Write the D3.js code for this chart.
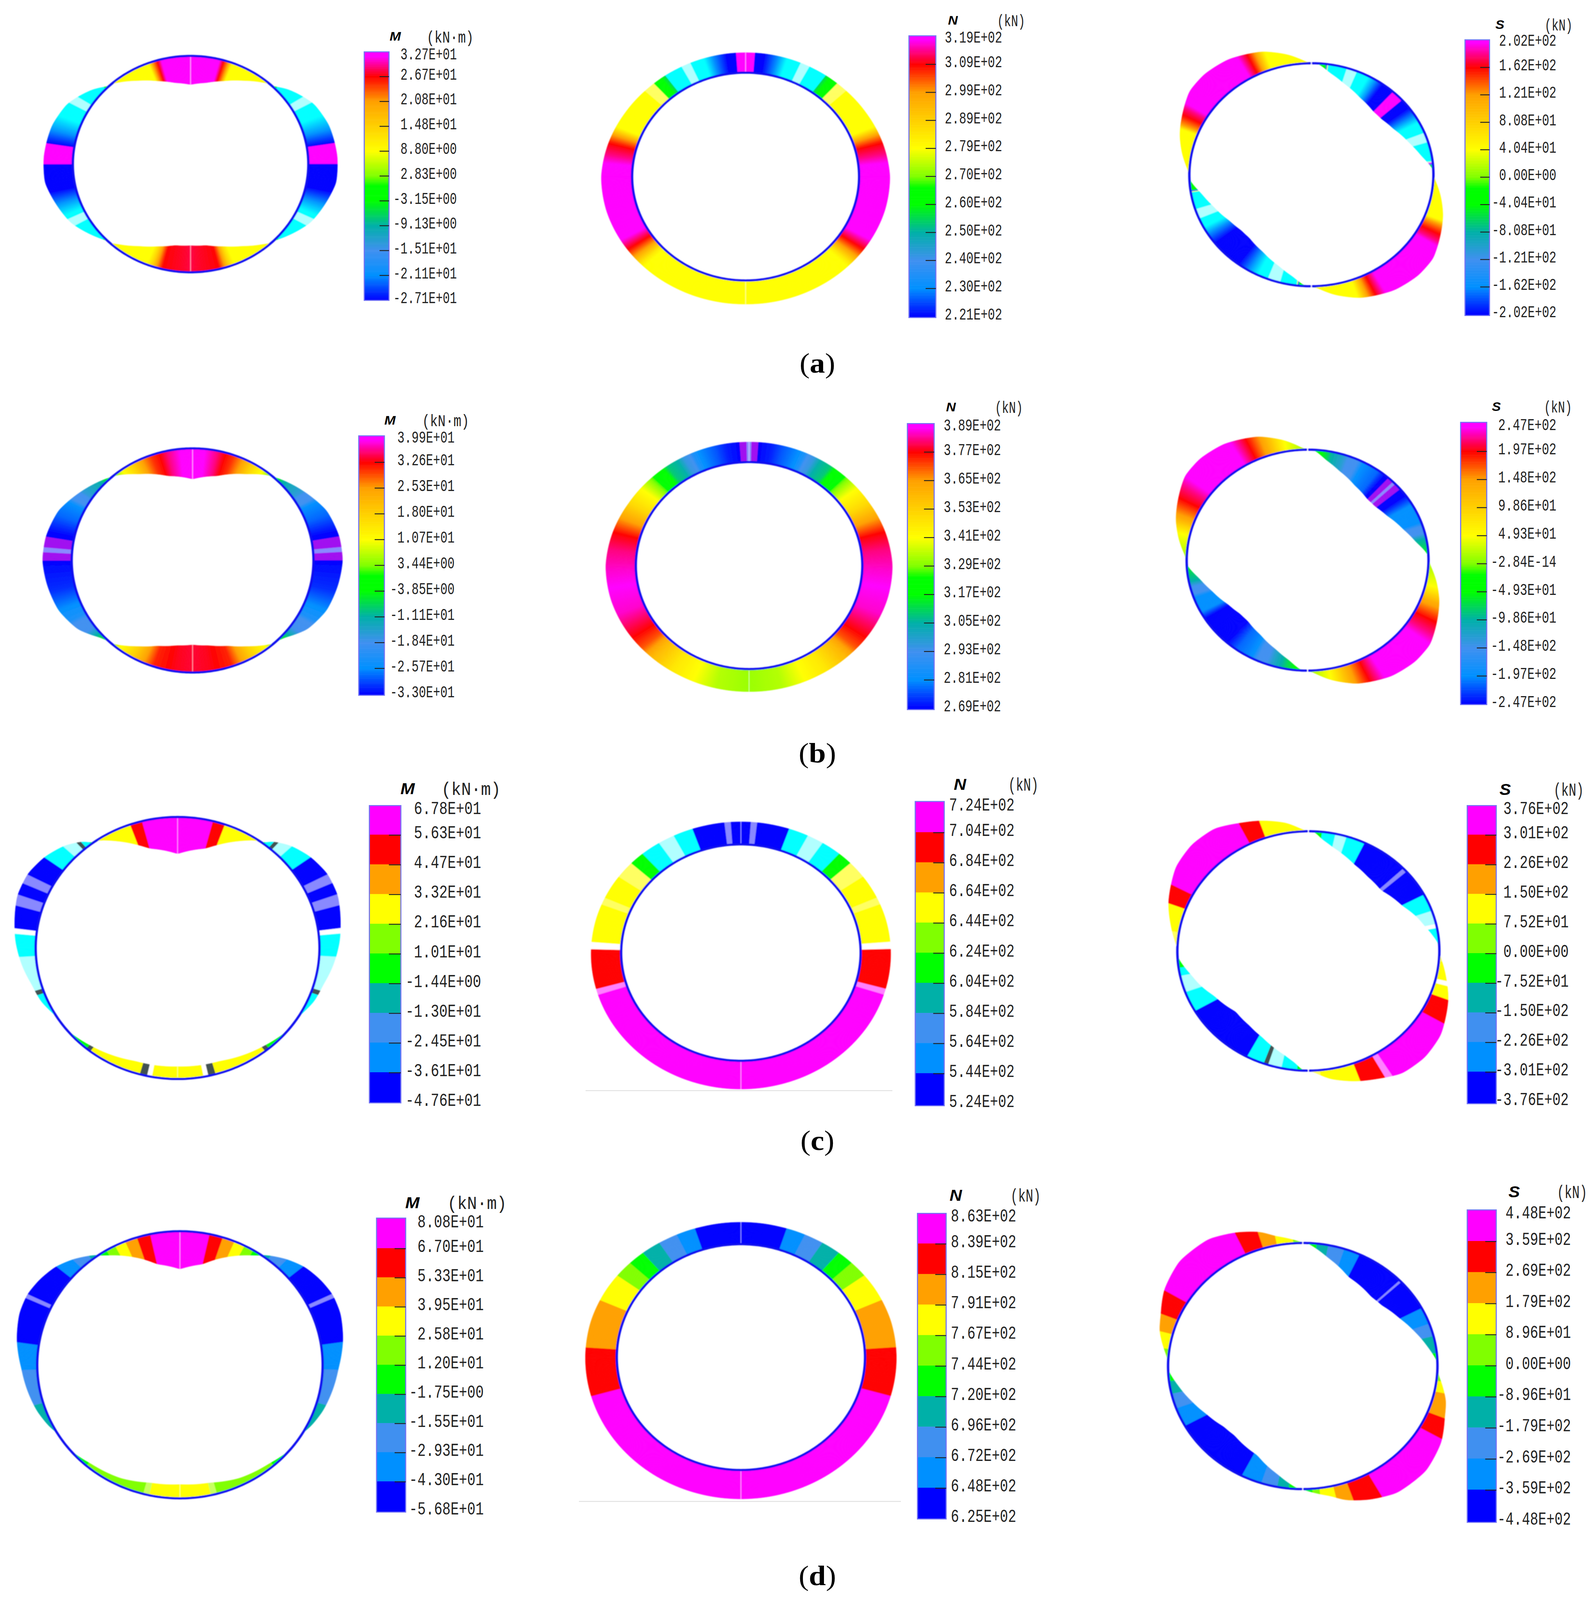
<!DOCTYPE html>
<html>
<head>
<meta charset="utf-8">
<script src="https://cdn.jsdelivr.net/npm/d3@7"></script>
<style>
html, body { margin: 0; height: 100%; background: #fff; overflow: hidden; }
svg { display: block; width: 100vw; height: 100vh; }
</style>
</head>
<body>
<svg viewBox="0 0 1423.6 1563.9" preserveAspectRatio="none"></svg>
<script>
// legend tick labels, top to bottom
var maTicks = ["3.27E+01","2.67E+01","2.08E+01","1.48E+01","8.80E+00","2.83E+00","-3.15E+00","-9.13E+00","-1.51E+01","-2.11E+01","-2.71E+01"];
var naTicks = ["3.19E+02","3.09E+02","2.99E+02","2.89E+02","2.79E+02","2.70E+02","2.60E+02","2.50E+02","2.40E+02","2.30E+02","2.21E+02"];
var saTicks = ["2.02E+02","1.62E+02","1.21E+02","8.08E+01","4.04E+01","0.00E+00","-4.04E+01","-8.08E+01","-1.21E+02","-1.62E+02","-2.02E+02"];
var mbTicks = ["3.99E+01","3.26E+01","2.53E+01","1.80E+01","1.07E+01","3.44E+00","-3.85E+00","-1.11E+01","-1.84E+01","-2.57E+01","-3.30E+01"];
var nbTicks = ["3.89E+02","3.77E+02","3.65E+02","3.53E+02","3.41E+02","3.29E+02","3.17E+02","3.05E+02","2.93E+02","2.81E+02","2.69E+02"];
var sbTicks = ["2.47E+02","1.97E+02","1.48E+02","9.86E+01","4.93E+01","-2.84E-14","-4.93E+01","-9.86E+01","-1.48E+02","-1.97E+02","-2.47E+02"];
var mcTicks = ["6.78E+01","5.63E+01","4.47E+01","3.32E+01","2.16E+01","1.01E+01","-1.44E+00","-1.30E+01","-2.45E+01","-3.61E+01","-4.76E+01"];
var ncTicks = ["7.24E+02","7.04E+02","6.84E+02","6.64E+02","6.44E+02","6.24E+02","6.04E+02","5.84E+02","5.64E+02","5.44E+02","5.24E+02"];
var scTicks = ["3.76E+02","3.01E+02","2.26E+02","1.50E+02","7.52E+01","0.00E+00","-7.52E+01","-1.50E+02","-2.26E+02","-3.01E+02","-3.76E+02"];
var mdTicks = ["8.08E+01","6.70E+01","5.33E+01","3.95E+01","2.58E+01","1.20E+01","-1.75E+00","-1.55E+01","-2.93E+01","-4.30E+01","-5.68E+01"];
var ndTicks = ["8.63E+02","8.39E+02","8.15E+02","7.91E+02","7.67E+02","7.44E+02","7.20E+02","6.96E+02","6.72E+02","6.48E+02","6.25E+02"];
var sdTicks = ["4.48E+02","3.59E+02","2.69E+02","1.79E+02","8.96E+01","0.00E+00","-8.96E+01","-1.79E+02","-2.69E+02","-3.59E+02","-4.48E+02"];

// diagram values read at stations, degrees clockwise from the crown
var maDeg = [0,10,20,30,40,42,44,50,55,62,73,87,98,106,118,132,135,137,140,150,160,170,180];
var maVal = [32.7,29.2,22.5,13.4,2.3,0,0,-8.3,-13.5,-20.3,-25,-27.1,-27.1,-22.9,-16.7,-3.1,0,0,4.1,15.2,23.4,29.2,30.4];
var naDeg = [0,15,30,45,60,75,90,105,120,135,150,165,180];
var naVal = [221,223,228,240,262,292,319,316,303,288,276,268,264];
var saDeg = [0,3,9.5,18,30,42,49,58.5,70.7,79.4,86.4,88,92,100,108.6,118,127,135.8,146.6,160,170,178,180];
var saVal = [0,0,-62,-117,-171,-202,-202,-179,-124,-70,-8,0,7,58,108,151,195,202,187,137,72,7,0];
var mbDeg = [0,15,30,40,42,44,58,68,80,90,100,112,123,132,136,138,150,159,170,180];
var mbVal = [39.9,31.9,16,1.3,0,-2.5,-16.5,-26.6,-31.7,-33,-30.5,-26.6,-17.8,-3.8,0,0,16.6,26.6,33.3,35.9];
var nbDeg = [0,15,30,45,60,75,90,105,120,135,150,165,180];
var nbVal = [269,272,278,292,315,355,389,385,365,340,322,314,310];
var sbDeg = [0,3,9.5,18,30,42,49,58.5,70.7,79.4,86.4,88,92,100,108.6,118,127,135.8,146.6,160,170,178,180];
var sbVal = [0,0,-76,-143,-209,-247,-247,-219,-152,-86,-10,0,9,71,132,185,238,247,229,168,88,9,0];
var mcDeg = [0,14.6,20.4,28,34,36,37,39,45.4,53.3,61.6,70.4,81,87.4,97,105.4,113,120,122,129,141,161,180];
var mcVal = [67.8,51.8,37.7,17.9,1.9,0,0,-11.4,-27.6,-40,-47.6,-47.6,-39,-34.3,-24.8,-15.2,-10.5,-1.9,0,0,8.5,20.7,22.6];
var ncDeg = [0,15,30,45,60,75,90,105,120,150,180];
var ncVal = [524,530,560,610,650,680,695,705,715,722,724];
var scDeg = [0,2.5,6.3,12,18.7,26,36,47.5,62.4,70.4,77,86,88,91,94,102.4,110.5,118.4,124.9,135,145,154,161.7,171,178,180];
var scVal = [0,0,-91,-169,-233,-298,-350,-376,-285,-195,-130,-13,0,0,25,113,205,276,338,376,363,276,213,120,13,0];
var mdDeg = [0,12,18,26.6,33,35,36,43.6,50,57,63.7,71,80.7,91.5,99.8,109,117,120.6,130,139.8,154,166.8,180];
var mdVal = [80.8,65.5,48,24,6.6,0,-4.6,-26.7,-41.7,-51,-56.8,-55.6,-46.4,-32.5,-25.5,-17.4,-7,0,0,8.7,15.3,26.2,29.5];
var ndDeg = [0,15,30,45,60,75,90,105,120,150,180];
var ndVal = [625,630,660,720,790,840,855,860,862,863,863];
var sdDeg = [0,2,12,25,42,50,61.6,70.5,80,88,91,94,105,111.7,121,133,145.9,155.6,163.8,169,179,180];
var sdVal = [0,0,-185,-371,-448,-433,-340,-239,-116,0,0,15,179,239,358,448,440,343,239,134,15,0];

// contour levels (see levelColor below)
var maToneDeg = [0,14.5,16.5,19,21,43,43.01,46,46.01,57,57.01,61,61.01,68,75,81,81.01,90,90.01,102,108,114,116,116.01,120,120.01,133,133.01,137,137.01,158,161,163,166,178,180];
var maTone = [0,0,1,2,4,4,6,6,20,20,19,19,20,20,21,22,0,0,22,22,21,20,20,19,19,20,20,6,6,4,4,3,2,1,0.8,0.7];
var naToneDeg = [0,4,4.01,8,14,18,24,24.01,28,28.01,36,36.01,38,42,42.01,47,47.01,67,71,75,80,84,119,124,128,132,134,180];
var naTone = [0,0,22,22,21,20,20,19,19,20,20,6.5,6,6,16,16,4,4,2,1,0.5,0,0,1,2,3.5,4,4];
var saToneDeg = [0,3,7,8,17,17.01,22,22.01,28,32,36,42,42.01,48,48.01,53,58,62,68,68.01,73,73.01,83,85,86,88,88.01,111,113,117,120,122,150,152,154,157,159,161,178,178.01,186,187,195,195.01,201,201.01,206,211,217,232,238,242,247,247.01,252,252.01,261,262,267,267.01,291,293,297,300,302,330,332,334,337,339,341,360];
var saTone = [6,6,6,20,20,19,19,20,20,21,22,22,0,0,22,22,21,20,20,19,19,20,20,6.5,6,6,4,4,2,1,0.5,0,0,0.5,1,2,3,4,4,6,6,20,20,19,19,20,20,21,22,22,21,20,20,19,19,20,20,6,6,4,4,2,1,0.5,0,0,0.5,1,2,3,4,4];
var mbToneDeg = [0,6,12,16,20,25,30,36,40,41,44,47,56,57,61,63,70,78,80,80.01,84.5,84.51,86.5,86.51,90,90.01,103,112,118,120,126,128,132,135,137,142,150,156,161,172,180];
var mbTone = [0,0,0.5,1,1.3,2,3,4,5,5.5,6,7,7.7,8,8,9,9.3,10,10,11,11,12,12,11,11,10,9.7,9,8.6,8,8,7.5,6.5,6,5,4,3,2,1.2,0.9,0.8];
var nbToneDeg = [0,0.8,0.81,4,4.01,10,15,22,25,26,29,32,37,39,44,45,49,52,60,68,75,83,92,100,112,118,124,130,136,146,156,166,180];
var nbTone = [12,12,11,11,10,9.8,9.4,9,8.5,8,7.8,7,6.7,6,6,5.2,4.5,4,3.2,2,1,0.5,0.2,0,0.2,0.6,1,1.5,2.5,3.5,4,4.6,4.8];
var sbToneDeg = [0,4,7,10,12,18,20,25,28,36,40,42,42.01,45,45.01,46.5,46.51,50,50.01,54,60,70,72,76,79,84,86,88,88.01,92,103,110,118,123,127,149,155,162,170,178,178.01,182,186,190,193,198,200,205,208,216,222,238,242,250,252,256,259,264,266,268,268.01,272,283,290,298,303,307,329,335,342,350,358,360];
var sbTone = [5.5,5.5,6,6.5,7,7.6,8,8,9,9.3,10,10,11,11,12,12,11,11,10,10,9,9,8,8,7,6.5,6,5.5,5,4.7,4,2.3,1,0.5,0,0,1,2.3,4,4.7,5.5,5.5,6,6.5,7,7.6,8,8,9,9.3,10,10,9,9,8,8,7,6.5,6,5.5,5,4.7,4,2.2,1,0.5,0,0,1,2.3,4,4.7,4.7];
var mcToneDeg = [0,14.4,19.5,35,37.5,40,41.5,46,53.5,62,65.5,70,74,82.5,84.5,93.5,108,110,122,129,140,142,164.5,167.5,169.5];
var mcTone = [0,1,4,6,20,13,19,20,22,12,22,12,22,14,20,19,13,20,20,6,13,4,13,14,4];
var ncToneDeg = [0,4,6.5,19.7,27.6,34,42,48,55.7,66.2,69,85.5,88.5,105.7,108];
var ncTone = [22,12,22,20,19,20,6,16,4,16,4,14,1,15,0];
var scToneDeg = [0,6,12,17,25.5,46.5,48.5,62.2,70.3,76.8,79,86,88,95,103.5,105.5,111,120.5,148.5,151,160,175,182,185,192,198,200,208,240,250,258,262,268,272,279,290.5,298,333.5,341];
var scTone = [6,20,19,20,22,12,22,20,19,14,20,6,16,4,14,4,1,0,15,1,4,16,6,20,19,13,20,22,20,19,20,6,16,16,4,1,0,1,4];
var mdToneDeg = [0,11.8,17.4,22.6,27,31,34,38,43.5,49.4,63.5,65,81.5,92,106.7,122,125,139,165,167.5];
var mdTone = [0,1,2,4,5,6,7,8,9,10,12,10,9,8,7,7,6,5,17,4];
var ndToneDeg = [0,18,25.7,32.8,40.3,46.8,54,66,85.8,105.9];
var ndTone = [10,9,8,7,6,5,4,2,1,0];
var sdToneDeg = [0,6,11,18,25,46,47,62,70,76,84,88,97,102,112,120,151,161,167,173,176,186,191,198,207,241,250,257,263,268,278,285,292,301,335,343,349,356];
var sdTone = [6,7,8,9,10,12,10,9,8,7,6,5,4,2,1,0,1,2,4,5,6,7,8,9,10,9,8,7,6,5,4,2,1,0,1,2,4,5];

var captions = ["a", "b", "c", "d"];
var bandLevels = [0, 1, 2, 4, 5, 6, 7, 8, 9, 10];

var levelColor = d3.scaleLinear()
    .domain([0,1,2,3,4,5,5.4,6,7,8,9,10,10.5,11,11.5,12,13,14,15,16,17,19,20,21,22])
    .range(["#ff00ff","#ff0000","#ffa000","#ffd000","#ffff00","#80ff00","#00ff00","#00ff00","#00b0a8","#4090f0","#0090ff","#0000ff","#0000ff","#a010f0","#a010f0","#8888ff","#405050","#ffffff","#ff80ff","#ffff60","#c8ff60","#b0ffff","#00ffff","#0090ff","#0000ff"]);

// layout: ring centre and radii, band widths, legend box
var panels = [
  {kind:"M", deg:maDeg, val:maVal, toneDeg:maToneDeg, tone:maTone, ticks:maTicks, smooth:true, cx:170.2, cy:160.4, rx:105.2, ry:105.7, thick:[-26,0,28], bar:[325.3,347.4,50.7,293.6], lab:[52.4,72,290.6], right:408, cw:6.3, fs:15, title:[353,35.5,11], unit:[402,36,42]},
  {kind:"N", deg:naDeg, val:naVal, toneDeg:naToneDeg, tone:naTone, ticks:naTicks, smooth:true, cx:665.9, cy:172.6, rx:101.4, ry:101.6, thick:[19.5,27.5], bar:[811.8,835.8,35,310.4], lab:[36,60,306.5], right:895, cw:6.4, fs:15, title:[851,20,11], unit:[903,20,25]},
  {kind:"S", deg:saDeg, val:saVal, toneDeg:saToneDeg, tone:saTone, ticks:saTicks, smooth:true, cx:1171.2, cy:170.8, rx:109, ry:109, thick:[-26,0,28], bar:[1308.4,1330.3,38.9,308.4], lab:[39,63,304.4], right:1390, cw:6.4, fs:15, title:[1339.5,24,11], unit:[1392,24,25]},
  {kind:"M", deg:mbDeg, val:mbVal, toneDeg:mbToneDeg, tone:mbTone, ticks:mbTicks, smooth:true, cx:172, cy:547.8, rx:108, ry:109.5, thick:[-26,0,30], bar:[320.4,343.3,426,679.6], lab:[427,449,675.6], right:406, cw:6.4, fs:15, title:[348.3,411,11], unit:[398,411,42]},
  {kind:"N", deg:nbDeg, val:nbVal, toneDeg:nbToneDeg, tone:nbTone, ticks:nbTicks, smooth:true, cx:669, cy:552.8, rx:101.2, ry:101.2, thick:[19.5,26.8], bar:[810.4,834.3,414,693.6], lab:[415,439,689.6], right:894, cw:6.4, fs:15, title:[849.3,398,11], unit:[901,398,25]},
  {kind:"S", deg:sbDeg, val:sbVal, toneDeg:sbToneDeg, tone:sbTone, ticks:sbTicks, smooth:true, cx:1167.8, cy:547.5, rx:108, ry:108, thick:[-28,0,30], bar:[1304.5,1327.8,412.8,688.7], lab:[414.6,438.4,685.3], right:1390, cw:6.5, fs:15, title:[1336.4,397.6,11], unit:[1391.4,397.6,25]},
  {kind:"M", deg:mcDeg, val:mcVal, toneDeg:mcToneDeg, tone:mcTone, ticks:mcTicks, smooth:false, cx:158.6, cy:926.6, rx:126.8, ry:128, thick:[-25,0,36], bar:[329.9,358,787.4,1078], lab:[789.6,813.4,1074.7], right:429.7, cw:7.5, fs:16, title:[364,771,14], unit:[420.7,771,53]},
  {kind:"N", deg:ncDeg, val:ncVal, toneDeg:ncToneDeg, tone:ncTone, ticks:ncTicks, smooth:false, cx:661.7, cy:931.1, rx:107, ry:105.8, thick:[22,27.6], bar:[817.4,843.3,783.4,1080.8], lab:[786,811,1076], right:906, cw:7.3, fs:16, title:[857.3,766.5,14], unit:[914,766.5,27], floor:[523,797,1066]},
  {kind:"S", deg:scDeg, val:scVal, toneDeg:scToneDeg, tone:scTone, ticks:scTicks, smooth:false, cx:1168.5, cy:929.5, rx:117, ry:117, thick:[-29,0,30], bar:[1310.4,1336.3,787.4,1078.8], lab:[789.4,813.4,1074], right:1401, cw:7.3, fs:16, title:[1344.3,771.5,14], unit:[1401,771.5,27]},
  {kind:"M", deg:mdDeg, val:mdVal, toneDeg:mdToneDeg, tone:mdTone, ticks:mdTicks, smooth:false, cx:160.7, cy:1334, rx:127.5, ry:130.5, thick:[-24.5,0,37], bar:[336.3,362.3,1190.6,1478], lab:[1193.6,1217.6,1474], right:432, cw:7.4, fs:16, title:[368.3,1175.6,14], unit:[426,1175.6,53]},
  {kind:"N", deg:ndDeg, val:ndVal, toneDeg:ndToneDeg, tone:ndTone, ticks:ndTicks, smooth:false, cx:661.7, cy:1326.5, rx:110.9, ry:110.4, thick:[21.4,28.2], bar:[819.4,845,1186,1484.7], lab:[1188,1213,1481.6], right:907.6, cw:7.3, fs:16, title:[853.6,1168.3,14], unit:[916,1168.3,27], floor:[517,804.6,1467.6]},
  {kind:"S", deg:sdDeg, val:sdVal, toneDeg:sdToneDeg, tone:sdTone, ticks:sdTicks, smooth:false, cx:1163.5, cy:1335.2, rx:120.3, ry:120.3, thick:[-29,0,30], bar:[1310.4,1336.3,1182.6,1488], lab:[1184.6,1210.6,1484], right:1403, cw:7.3, fs:16, title:[1352.3,1165,14], unit:[1404,1165,27]}
];
var captionPos = [[730,356], [730,737], [730,1116], [730,1541]];
var tickDrop = 2.4;
var monoAdvance = 0.6; // em width of a Liberation Mono glyph

var svg = d3.select("svg");
var filter = svg.append("defs").append("filter").attr("id", "soft");
filter.append("feGaussianBlur").attr("stdDeviation", 0.35);

// the drawing fills the window, so glyphs get the height it loses when the window is short
var fontFix = 4482 / window.innerHeight;

var step = 0.5;
var path = d3.line();

panels.forEach(function(p) {
  var mirror = p.kind !== "S";
  var fold = function(t) { return mirror ? (t > 180 ? 360 - t : t) : t % 180; };
  var foldTone = function(t) { return mirror ? (t > 180 ? 360 - t : t) : t; };

  // band width in px from the reading; M and S keep the sign, N is one-sided
  var valScale = d3.scaleLinear(d3.extent(p.val), [p.thick[0], p.thick[p.thick.length - 1]]);
  if (p.thick.length === 3) valScale = d3.scaleLinear([d3.min(p.val), 0, d3.max(p.val)], p.thick);
  var sign = p.kind === "M" ? -1 : 1;
  var readAt = d3.scaleLinear(p.deg, p.val);
  var toneAt = p.smooth
      ? d3.scaleLinear(p.toneDeg, p.tone).clamp(true)
      : d3.scaleThreshold(p.toneDeg.slice(1), p.tone);

  // contour sampled round the half ring, lightly smoothed so stations do not kink
  var stations = d3.range(0, 180 + step, step);
  var offs = Float64Array.from(stations, function(t) { return sign * valScale(readAt(t)); });
  d3.blur(offs, 1.5);
  var offAt = function(t) { return offs[Math.round(fold(t) / step)]; };

  var pt = function(t, off) {
    var a = t * Math.PI / 180;
    return [p.cx + (p.rx + off) * Math.sin(a), p.cy - (p.ry + off) * Math.cos(a)];
  };

  var g = svg.append("g").attr("filter", "url(#soft)");

  g.append("g").selectAll("path")
    .data(d3.range(0, 360, step).filter(function(t) {
      return Math.abs(offAt(t)) > 0.15 || Math.abs(offAt(t + step)) > 0.15;
    }))
    .enter().append("path")
      .attr("d", function(t) {
        return path([pt(t, 0), pt(t, offAt(t)), pt(t + step, offAt(t + step)), pt(t + step, 0)]) + "Z";
      })
      .attr("fill", function(t) { return levelColor(toneAt(foldTone(t + step / 2))); })
      .attr("stroke", function(t) { return levelColor(toneAt(foldTone(t + step / 2))); })
      .attr("stroke-width", 0.25);

  // light seam the FE plot leaves at crown and invert
  if (mirror) {
    [0, 180].forEach(function(t) {
      g.append("path").attr("d", path([pt(t, 0), pt(t, offAt(t))]))
        .attr("stroke", "#fff").attr("stroke-opacity", 0.65).attr("stroke-width", 0.6);
    });
  }

  // ring
  g.append("path")
    .attr("d", path(d3.range(0, 361, 1).map(function(t) { return pt(t, 0); })))
    .attr("fill", "none")
    .attr("stroke", "#1010f0")
    .attr("stroke-width", 2.1);
  if (!mirror) {
    [0, 180].forEach(function(t) {
      g.append("path").attr("d", path([pt(t, -2), pt(t, 2)]))
        .attr("stroke", "#fff").attr("stroke-width", 0.8);
    });
  }

  if (p.floor) {
    svg.append("line")
      .attr("x1", p.floor[0]).attr("x2", p.floor[1])
      .attr("y1", p.floor[2]).attr("y2", p.floor[2])
      .attr("stroke", "#e2e2e2").attr("stroke-width", 0.9);
  }

  // legend: index along the ticks to y
  var y = d3.scaleLinear([0, 1, 10], p.lab);
  var bx0 = p.bar[0], bx1 = p.bar[1], by0 = p.bar[2], by1 = p.bar[3];
  var yBar = function(i) { return i <= 0 ? by0 : i >= 10 ? by1 : y(i) + tickDrop; };
  var lg = svg.append("g");
  var legendSteps = p.smooth ? d3.range(0, 10, 0.05) : d3.range(0, 10, 1);
  var di = p.smooth ? 0.05 : 1;
  lg.selectAll("rect.cell")
    .data(legendSteps)
    .enter().append("rect")
      .attr("class", "cell")
      .attr("x", bx0)
      .attr("width", bx1 - bx0)
      .attr("y", function(i) { return yBar(i); })
      .attr("height", function(i) { return yBar(i + di) - yBar(i) + 0.2; })
      .attr("fill", function(i) { return levelColor(p.smooth ? i : bandLevels[i]); });
  lg.append("rect")
    .attr("x", bx0).attr("y", by0)
    .attr("width", bx1 - bx0).attr("height", by1 - by0)
    .attr("fill", "none").attr("stroke", "#7474f4").attr("stroke-width", 1);

  lg.append("g")
    .attr("transform", "translate(" + bx1 + "," + tickDrop + ")")
    .call(d3.axisLeft(y).tickValues(d3.range(1, 10)).tickSize((bx1 - bx0) * 0.38).tickFormat(""))
    .call(function(a) { a.select(".domain").remove(); })
    .selectAll("line").attr("stroke", "#222").attr("stroke-width", 0.9);

  // tall narrow labels: squeeze in x only, the source font is condensed
  var labelSize = p.fs * fontFix;
  lg.append("g")
    .attr("transform", "translate(" + p.right + ",0)")
    .call(d3.axisRight(y).tickValues(d3.range(11)).tickSize(0).tickPadding(0)
      .tickFormat(function(i) { return p.ticks[i]; }))
    .call(function(a) { a.select(".domain").remove(); })
    .selectAll("text")
      .attr("text-anchor", "end")
      .attr("x", 0)
      .attr("fill", "#222")
      .attr("font-family", "'Liberation Mono'")
      .attr("font-size", labelSize)
      .attr("transform", "scale(" + (p.cw / (monoAdvance * labelSize)) + ",1)");

  lg.append("text")
    .attr("x", p.title[0]).attr("y", p.title[1])
    .attr("text-anchor", "middle").attr("dy", "0.35em")
    .attr("font-family", "'Liberation Sans'")
    .attr("font-style", "italic").attr("font-weight", "bold")
    .attr("font-size", p.title[2] * fontFix)
    .text(p.kind);

  var unitText = p.kind === "M" ? "(kN·m)" : "(kN)";
  lg.append("text")
    .attr("transform", "translate(" + p.unit[0] + "," + p.unit[1] + ") scale(" +
      (p.unit[2] / (unitText.length * monoAdvance * labelSize)) + ",1)")
    .attr("text-anchor", "middle").attr("dy", "0.35em")
    .attr("font-family", "'Liberation Mono'")
    .attr("font-size", labelSize)
    .attr("fill", "#222")
    .text(unitText);
});

captions.forEach(function(c, i) {
  var t = svg.append("text")
    .attr("x", captionPos[i][0]).attr("y", captionPos[i][1])
    .attr("text-anchor", "middle").attr("dy", "0.3em")
    .attr("font-family", "'Liberation Serif'")
    .attr("font-size", 25 * fontFix);
  t.append("tspan").text("(");
  t.append("tspan").attr("font-weight", "bold").text(c);
  t.append("tspan").text(")");
});
</script>
</body>
</html>
